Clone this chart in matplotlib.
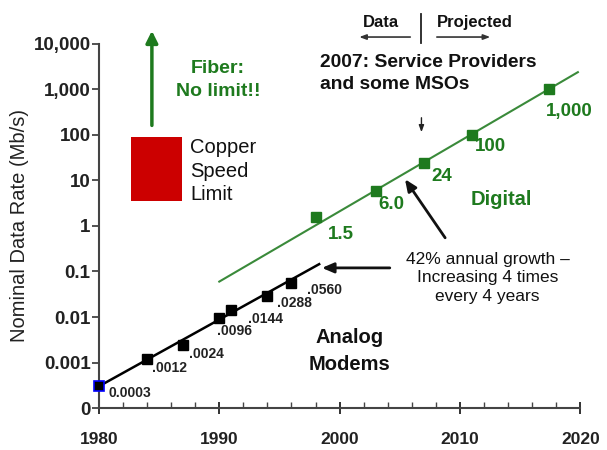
import numpy as np
import matplotlib
matplotlib.use("Agg")
import matplotlib.pyplot as plt

plt.rcParams['font.family'] = ['Liberation Sans', 'DejaVu Sans']

# analog modem data
analog_years = [1980, 1984, 1987, 1990, 1991, 1994, 1996]
analog_rates = [0.0003, 0.0012, 0.0024, 0.0096, 0.0144, 0.0288, 0.0560]
analog_labels = ["0.0003", ".0012", ".0024", ".0096", ".0144", ".0288", ".0560"]
analog_trend_years = [1980, 1998.3]
analog_trend_rates = [0.0003, 0.145]

# digital data / projection
digital_years = [1998, 2003, 2007, 2011, 2017.4]
digital_rates = [1.6, 6.0, 24, 100, 1000]
digital_labels = ["1.5", "6.0", "24", "100", "1,000"]
digital_trend_years = [1990, 2019.8]
digital_trend_rates = [0.06, 2400]

# copper speed limit block
copper_years = [1982.7, 1986.9]
copper_low = [3.5, 3.5]
copper_high = [90, 90]

yticks = [1e-4, 1e-3, 1e-2, 1e-1, 1, 10, 100, 1000, 10000]
ytick_labels = ["0", "0.001", "0.01", "0.1", "1", "10", "100", "1,000", "10,000"]
xticks = [1980, 1990, 2000, 2010, 2020]

green = "#1e7a1e"
gline = "#3a8a3a"
ink = "#111111"

fig = plt.figure(figsize=(6.07, 4.5), dpi=100)
ax = fig.add_axes([0.163, 0.0933, 0.793, 0.809])

# trend lines and points
ax.plot(analog_trend_years, analog_trend_rates, color="black", lw=1.8, zorder=2)
ax.plot(digital_trend_years, digital_trend_rates, color=gline, lw=1.5, zorder=2)
ax.plot(analog_years[1:], analog_rates[1:], "s", color="black", ms=6.5, zorder=3)
ax.plot(analog_years[:1], analog_rates[:1], "s", mfc="black", mec="blue", mew=1.2, ms=6.5,
        zorder=4, clip_on=False)
ax.plot(digital_years, digital_rates, "s", color=green, ms=6.5, zorder=3)

ax.fill_between(copper_years, copper_low, copper_high, color="#cc0000", lw=0, zorder=2)

# small labels for the analog points
label_pos = [(1980.8, 2.1e-4), (1984.4, 7.6e-4), (1987.5, 1.5e-3), (1989.8, 4.9e-3),
             (1992.4, 9.0e-3), (1994.8, 0.0204), (1997.3, 0.039)]
for (x, y), t in zip(label_pos, analog_labels):
    ax.text(x, y, t, fontsize=10, fontweight="bold", color="#222222", ha="left", va="center")

# green labels for digital points
dig_pos = [(1999.0, 0.66), (2003.2, 2.9), (2007.6, 12), (2011.2, 55), (2017.1, 320)]
for (x, y), t in zip(dig_pos, digital_labels):
    ax.text(x, y, t, fontsize=13.5, fontweight="bold", color=green, ha="left", va="center")

ax.text(2013.4, 3.9, "Digital", fontsize=14.5, fontweight="bold", color=green, ha="center", va="center")
ax.text(1989.9, 1600, "Fiber:\nNo limit!!", fontsize=14, fontweight="bold", color=green,
        ha="center", va="center", linespacing=1.5)
ax.text(1987.6, 16, "Copper\nSpeed\nLimit", fontsize=14.5, color=ink,
        ha="left", va="center", linespacing=1.3)
ax.text(2000.8, 1.8e-3, "Analog\nModems", fontsize=14.5, fontweight="bold", color=ink,
        ha="center", va="center", linespacing=1.55)
ax.text(1998.4, 2240, "2007: Service Providers\nand some MSOs", fontsize=13.9, fontweight="bold",
        color=ink, ha="left", va="center", linespacing=1.45)
ax.text(2012.3, 0.072, "42% annual growth \u2013\nIncreasing 4 times\nevery 4 years", fontsize=12.5,
        color=ink, ha="center", va="center", linespacing=1.33)
ax.text(2003.4, 10**4.48, "Data", fontsize=12, fontweight="bold", color=ink, ha="center",
        va="center", clip_on=False)
ax.text(2011.2, 10**4.48, "Projected", fontsize=12, fontweight="bold", color=ink, ha="center",
        va="center", clip_on=False)

# arrows
kw = dict(annotation_clip=False)
ax.annotate("", xy=(1984.4, 22400), xytext=(1984.4, 141),
            arrowprops=dict(arrowstyle="-|>,head_width=0.35,head_length=0.7", color=green, lw=2.5), **kw)
ax.annotate("", xy=(2001.4, 14200), xytext=(2006.1, 14200),
            arrowprops=dict(arrowstyle="-|>,head_width=0.15,head_length=0.4", color="#333333", lw=1.2), **kw)
ax.annotate("", xy=(2012.75, 14200), xytext=(2007.85, 14200),
            arrowprops=dict(arrowstyle="-|>,head_width=0.15,head_length=0.4", color="#333333", lw=1.2), **kw)
ax.plot([2006.8, 2006.8], [10**4.66, 10**4.02], color="#222222", lw=1.3, clip_on=False)
ax.annotate("", xy=(2006.8, 100), xytext=(2006.8, 275),
            arrowprops=dict(arrowstyle="-|>,head_width=0.15,head_length=0.4", color="#222222", lw=1), **kw)
ax.annotate("", xy=(1998.3, 0.12), xytext=(2004.4, 0.12),
            arrowprops=dict(arrowstyle="-|>,head_width=0.3,head_length=0.7", color=ink, lw=2), **kw)
ax.annotate("", xy=(2005.3, 12), xytext=(2008.9, 0.49),
            arrowprops=dict(arrowstyle="-|>,head_width=0.3,head_length=0.7", color=ink, lw=2), **kw)

# axes
ax.set_yscale("log")
ax.set_ylim(1e-4, 1e4)
ax.set_xlim(1980, 2020)
ax.set_yticks(yticks)
ax.set_yticklabels(ytick_labels)
ax.yaxis.set_minor_locator(matplotlib.ticker.NullLocator())
ax.set_xticks(xticks)
ax.set_xticks(np.arange(1982, 2020, 2), minor=True)
for s in ["top", "right"]:
    ax.spines[s].set_visible(False)
for s in ["left", "bottom"]:
    ax.spines[s].set_color("#444444")
    ax.spines[s].set_linewidth(1.5)
ax.tick_params(axis="y", direction="out", length=5, width=1.3, color="#444444", pad=1,
               labelsize=13.5)
ax.tick_params(axis="x", which="major", direction="inout", length=9, width=1.3, color="#222222",
               pad=13, labelsize=12.5)
ax.tick_params(axis="x", which="minor", direction="in", length=4, width=1, color="#444444")
for lab in ax.get_xticklabels() + ax.get_yticklabels():
    lab.set_fontweight("bold")
    lab.set_color("#222222")
ax.set_ylabel("Nominal Data Rate (Mb/s)", fontsize=14.5, color="#222222", labelpad=3)

fig.savefig("out.png", dpi=100)
